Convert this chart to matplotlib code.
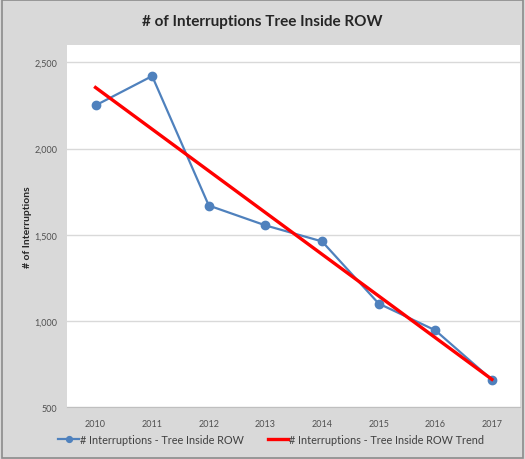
import numpy as np
import matplotlib
matplotlib.use("Agg")
import matplotlib.pyplot as plt
from matplotlib.patches import Rectangle

years = ["2010", "2011", "2012", "2013", "2014", "2015", "2016", "2017"]
interruptions = [2250, 2420, 1670, 1555, 1462, 1102, 947, 660]
y_ticks = [500, 1000, 1500, 2000, 2500]

plt.rcParams["font.family"] = ["Lato", "DejaVu Sans"]

fig = plt.figure(figsize=(5.25, 4.6), dpi=100, facecolor="#d9d9d9")
fig.patches.append(Rectangle((0.003, 0.003), 0.994, 0.994, transform=fig.transFigure,
                             fill=False, edgecolor="#8c8c8c", linewidth=1.2))

ax = fig.add_axes([0.128, 0.112, 0.863, 0.788])
ax.set_facecolor("white")

x = np.arange(len(years))
ax.plot(x, interruptions, color="#4f81bd", linewidth=1.6, marker="o", markersize=6,
        label="# Interruptions - Tree Inside ROW", zorder=3)

# linear trend line, like Excel's
slope, intercept = np.polyfit(x, interruptions, 1)
ax.plot(x, slope * x + intercept, color="#ff0000", linewidth=2.4,
        label="# Interruptions - Tree Inside ROW Trend", zorder=4)

ax.set_xlim(-0.5, len(years) - 0.5)
ax.set_ylim(500, 2600)
ax.set_xticks(x)
ax.set_xticklabels(years)
ax.set_yticks(y_ticks)
ax.set_yticklabels([f"{v:,}" for v in y_ticks])
ax.tick_params(axis="both", length=0, labelsize=6.5, labelcolor="#505050")
ax.tick_params(axis="x", pad=8)
ax.tick_params(axis="y", pad=7)
ax.grid(axis="y", color="#d9d9d9", linewidth=1)
ax.set_axisbelow(True)
for s in ["top", "right", "left"]:
    ax.spines[s].set_visible(False)
ax.spines["bottom"].set_color("#bfbfbf")

ax.set_ylabel("# of Interruptions", fontsize=7.5, fontweight="bold", color="#262626")
ax.yaxis.set_label_coords(-0.077, 0.5)
fig.text(0.5, 0.952, "# of Interruptions Tree Inside ROW", ha="center", va="center",
         fontsize=11, fontweight="bold", color="#262626")

fig.legend(loc="center", bbox_to_anchor=(0.517, 0.043), ncol=2, frameon=False,
           fontsize=7.8, handlelength=1.9, handletextpad=0.1, columnspacing=2.2,
           markerscale=0.7, labelcolor="#404040")

fig.savefig("out.png", dpi=100, facecolor=fig.get_facecolor())
